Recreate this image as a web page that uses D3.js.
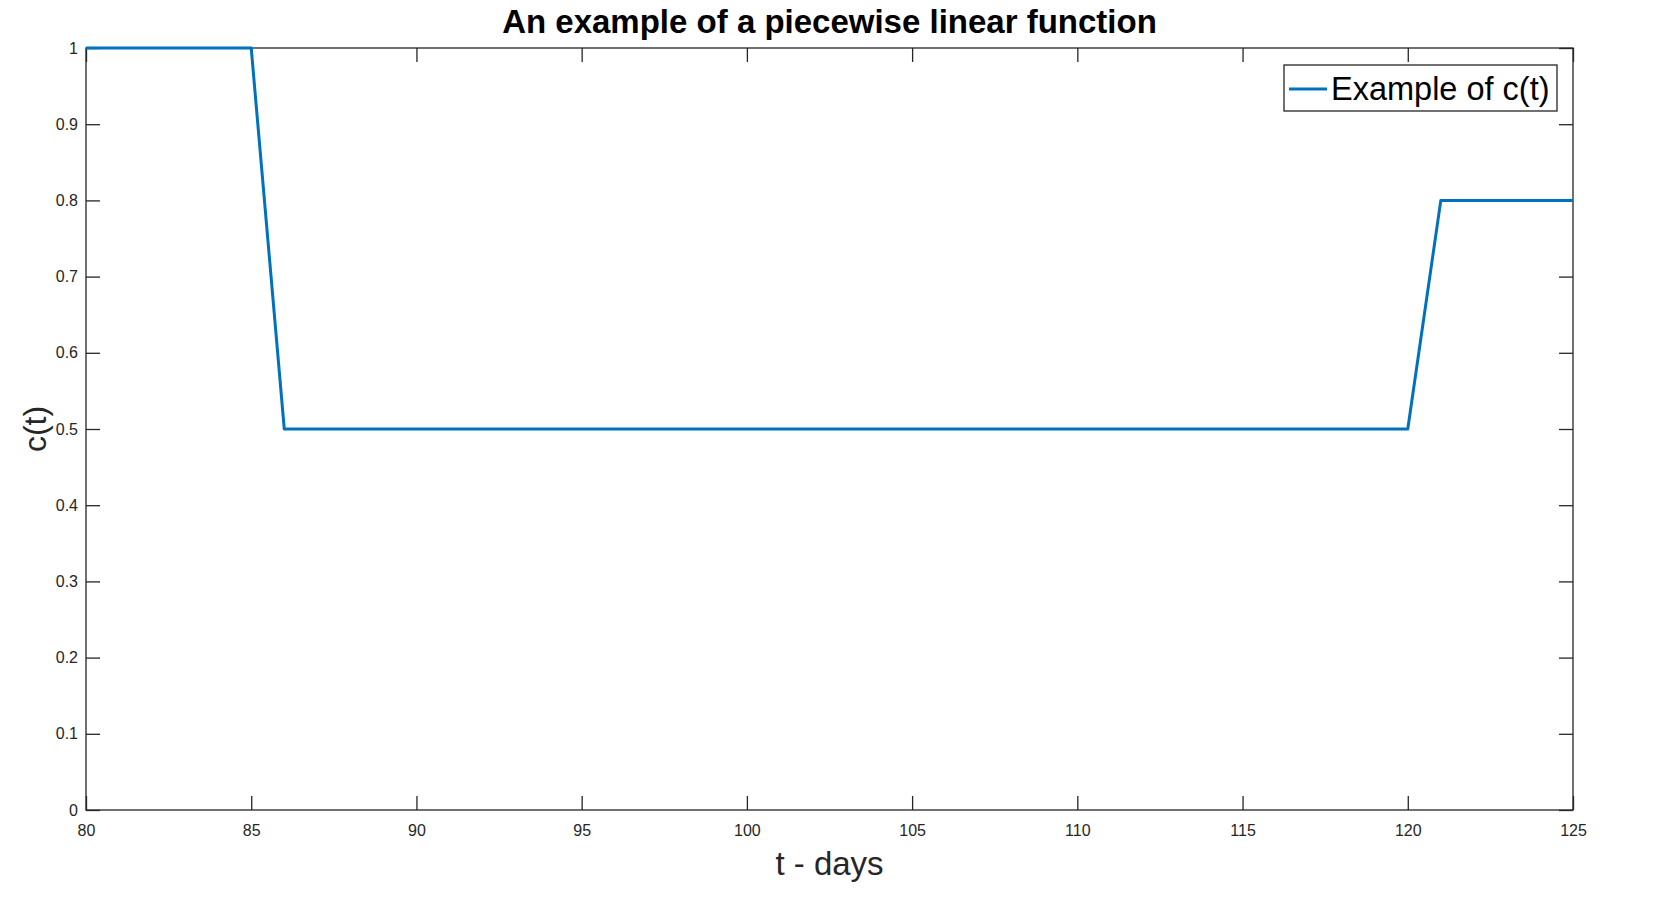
<!DOCTYPE html>
<html>
<head>
<meta charset="utf-8">
<script src="https://cdn.jsdelivr.net/npm/d3@7"></script>
<style>
  html, body { margin: 0; padding: 0; background: #fff; }
  svg { display: block; font-family: "Liberation Sans", Arial, Helvetica, sans-serif; }
</style>
</head>
<body>
<svg id="chart" width="1662" height="906"></svg>
<script>
// Data
const tValues = [80, 85, 86, 120, 121, 125];
const cValues = [1, 1, 0.5, 0.5, 0.8, 0.8];
const xTicks = [80, 85, 90, 95, 100, 105, 110, 115, 120, 125];
const yTicks = [0, 0.1, 0.2, 0.3, 0.4, 0.5, 0.6, 0.7, 0.8, 0.9, 1];
const titleText = "An example of a piecewise linear function";
const xLabel = "t - days";
const yLabel = "c(t)";
const legendLabel = "Example of c(t)";

const W = 1662, H = 906;
const m = { left: 86, right: 1573, top: 48, bottom: 810 };
const svg = d3.select("#chart");

const x = d3.scaleLinear().domain([80, 125]).range([m.left, m.right]);
const y = d3.scaleLinear().domain([0, 1]).range([m.bottom, m.top]);

const axisColor = "#262626";
const tickLen = 14;

// Axes box
svg.append("rect")
  .attr("x", m.left).attr("y", m.top)
  .attr("width", m.right - m.left).attr("height", m.bottom - m.top)
  .attr("fill", "none").attr("stroke", axisColor).attr("stroke-width", 1.3);

// Bottom axis
svg.append("g").attr("transform", `translate(0,${m.bottom})`)
  .call(d3.axisBottom(x).tickValues(xTicks).tickSizeInner(-tickLen).tickSizeOuter(0).tickPadding(15).tickFormat(d3.format("d")));
// Top ticks
svg.append("g").attr("transform", `translate(0,${m.top})`)
  .call(d3.axisTop(x).tickValues(xTicks).tickSizeInner(-tickLen).tickSizeOuter(0).tickFormat(""));
// Left axis
svg.append("g").attr("transform", `translate(${m.left},0)`)
  .call(d3.axisLeft(y).tickValues(yTicks).tickSizeInner(-tickLen).tickSizeOuter(0).tickPadding(8).tickFormat(d => d3.format("~g")(d)));
// Right ticks
svg.append("g").attr("transform", `translate(${m.right},0)`)
  .call(d3.axisRight(y).tickValues(yTicks).tickSizeInner(-tickLen).tickSizeOuter(0).tickFormat(""));

svg.selectAll(".domain").remove();
svg.selectAll(".tick line").attr("stroke", axisColor).attr("stroke-width", 1.3);
svg.selectAll(".tick text").attr("fill", axisColor).attr("font-size", 16)
  .attr("font-family", "'Liberation Sans', Arial, sans-serif");

// Line
const line = d3.line().x((d, i) => x(tValues[i])).y((d, i) => y(cValues[i]));
svg.append("path")
  .datum(cValues)
  .attr("d", line)
  .attr("fill", "none")
  .attr("stroke", "#0072BD")
  .attr("stroke-width", 3)
  .attr("stroke-linejoin", "round");

// Title
svg.append("text")
  .attr("x", (m.left + m.right) / 2).attr("y", 33)
  .attr("text-anchor", "middle")
  .attr("font-size", 33).attr("font-weight", "bold").attr("fill", "#000")
  .text(titleText);

// X label
svg.append("text")
  .attr("x", (m.left + m.right) / 2).attr("y", 875)
  .attr("text-anchor", "middle")
  .attr("font-size", 33).attr("fill", axisColor)
  .text(xLabel);

// Y label
svg.append("text")
  .attr("transform", `translate(46,${(m.top + m.bottom) / 2}) rotate(-90)`)
  .attr("text-anchor", "middle")
  .attr("font-size", 32).attr("fill", axisColor)
  .text(yLabel);

// Legend
const lg = svg.append("g");
lg.append("rect")
  .attr("x", 1284).attr("y", 65).attr("width", 273).attr("height", 46)
  .attr("fill", "#fff").attr("stroke", axisColor).attr("stroke-width", 1.3);
lg.append("line")
  .attr("x1", 1289).attr("x2", 1327).attr("y1", 89).attr("y2", 89)
  .attr("stroke", "#0072BD").attr("stroke-width", 3);
lg.append("text")
  .attr("x", 1331).attr("y", 100)
  .attr("font-size", 32.5).attr("fill", "#000")
  .text(legendLabel);
</script>
</body>
</html>
